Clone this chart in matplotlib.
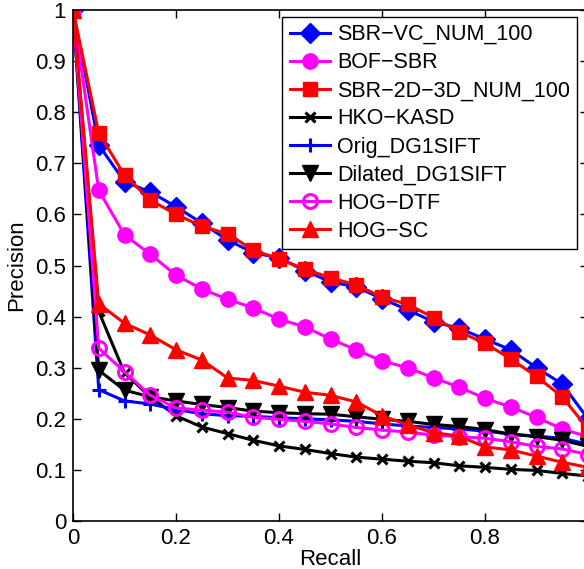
import numpy as np
import matplotlib.pyplot as plt

plt.rcParams['font.family'] = ['Liberation Sans', 'DejaVu Sans']

# Recall values (0 to 1, step 0.05)
recall = [0.0, 0.05, 0.1, 0.15, 0.2, 0.25, 0.3, 0.35, 0.4, 0.45, 0.5,
          0.55, 0.6, 0.65, 0.7, 0.75, 0.8, 0.85, 0.9, 0.95, 1.0]

# Precision for each method
sbr_vc = [1.0, 0.736, 0.664, 0.644, 0.615, 0.583, 0.55, 0.525, 0.515, 0.49, 0.468,
          0.458, 0.435, 0.413, 0.39, 0.377, 0.356, 0.335, 0.30, 0.268, 0.20]
bof_sbr = [1.0, 0.647, 0.56, 0.522, 0.481, 0.454, 0.434, 0.417, 0.395, 0.38, 0.356,
           0.335, 0.313, 0.30, 0.28, 0.262, 0.24, 0.223, 0.203, 0.18, 0.165]
sbr_2d3d = [1.0, 0.759, 0.677, 0.628, 0.60, 0.577, 0.562, 0.53, 0.513, 0.493, 0.476,
            0.462, 0.438, 0.424, 0.398, 0.37, 0.348, 0.317, 0.283, 0.243, 0.18]
hko_kasd = [1.0, 0.41, 0.29, 0.243, 0.206, 0.184, 0.171, 0.158, 0.147, 0.14, 0.132,
            0.125, 0.121, 0.117, 0.114, 0.108, 0.105, 0.101, 0.099, 0.093, 0.088]
orig_dg1 = [1.0, 0.257, 0.235, 0.229, 0.218, 0.21, 0.206, 0.205, 0.202, 0.2, 0.198,
            0.195, 0.19, 0.186, 0.183, 0.18, 0.176, 0.17, 0.166, 0.162, 0.15]
dil_dg1 = [1.0, 0.295, 0.256, 0.243, 0.235, 0.228, 0.222, 0.215, 0.212, 0.21, 0.209,
           0.204, 0.199, 0.195, 0.189, 0.185, 0.179, 0.17, 0.165, 0.158, 0.146]
hog_dtf = [1.0, 0.338, 0.292, 0.246, 0.221, 0.217, 0.213, 0.203, 0.199, 0.195, 0.19,
           0.183, 0.178, 0.174, 0.168, 0.165, 0.162, 0.155, 0.146, 0.141, 0.13]
hog_sc = [1.0, 0.425, 0.387, 0.364, 0.335, 0.315, 0.28, 0.275, 0.264, 0.252, 0.246,
          0.233, 0.206, 0.188, 0.173, 0.166, 0.145, 0.139, 0.127, 0.115, 0.105]

labels = ['SBR\u2212VC_NUM_100', 'BOF\u2212SBR', 'SBR\u22122D\u22123D_NUM_100', 'HKO\u2212KASD',
          'Orig_DG1SIFT', 'Dilated_DG1SIFT', 'HOG\u2212DTF', 'HOG\u2212SC']

fig = plt.figure(figsize=(5.84, 5.69), dpi=100)
ax = fig.add_axes([73 / 584, 48 / 569, 515 / 584, 511 / 569])

lw = 2.2
ax.plot(recall, sbr_vc, color='#0000ff', marker='D', ms=10, lw=lw, label=labels[0])
ax.plot(recall, bof_sbr, color='#ff00ff', marker='o', ms=11, lw=lw, label=labels[1])
ax.plot(recall, sbr_2d3d, color='#ff0000', marker='s', ms=10, lw=lw, label=labels[2])
ax.plot(recall, hko_kasd, color='black', marker='x', ms=7, mew=2.2, lw=lw, label=labels[3])
ax.plot(recall, orig_dg1, color='#0000ff', marker='+', ms=10, mew=2.2, lw=lw, label=labels[4])
ax.plot(recall, dil_dg1, color='black', marker='v', ms=12, lw=lw, label=labels[5])
ax.plot(recall, hog_dtf, color='#ff00ff', marker='o', ms=10, mfc='none', mew=2.2, lw=lw,
        label=labels[6])
ax.plot(recall, hog_sc, color='#ff0000', marker='^', ms=12, lw=lw, label=labels[7])

ax.set_xlim(0, 1)
ax.set_ylim(0, 1)
ax.set_xticks(np.arange(0, 1.01, 0.2))
ax.set_xticklabels(['0', '0.2', '0.4', '0.6', '0.8', '1'])
ax.set_yticks(np.arange(0, 1.01, 0.1))
ax.set_yticklabels(['0', '0.1', '0.2', '0.3', '0.4', '0.5', '0.6', '0.7', '0.8', '0.9', '1'])
ax.tick_params(direction='in', top=True, right=True, length=6, width=1, labelsize=16, pad=5)
for s in ax.spines.values():
    s.set_linewidth(1.2)
ax.set_xlabel('Recall', fontsize=16, labelpad=0)
ax.set_ylabel('Precision', fontsize=16, labelpad=6)

leg = ax.legend(loc='upper right', bbox_to_anchor=(577 / 584, 1 - 17 / 569),
                bbox_transform=fig.transFigure, borderaxespad=0, fontsize=15.5,
                fancybox=False, framealpha=1, edgecolor='black', handlelength=1.9,
                handletextpad=0.3, labelspacing=0.33, borderpad=0.33)
leg.get_frame().set_linewidth(1.0)

fig.savefig('out.png', dpi=100)
